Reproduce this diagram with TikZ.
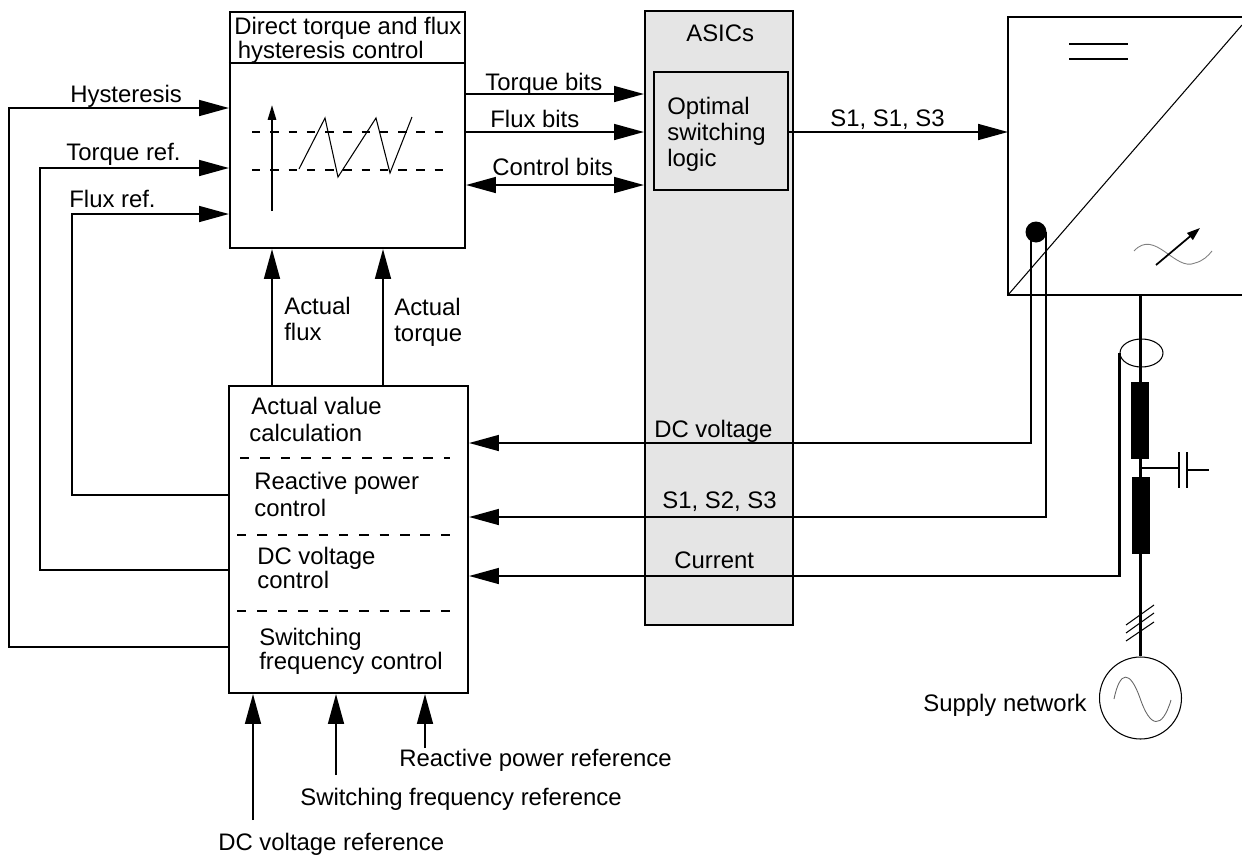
\documentclass[tikz,border=0pt]{standalone}
\usepackage{fontspec}
\setmainfont{Liberation Sans}
\usetikzlibrary{arrows.meta,shapes.geometric}
\definecolor{asicgray}{gray}{0.90}
\tikzset{
	blockbox/.style={draw, line width=1.2pt, inner sep=0pt},
	sig/.style={line width=1.2pt, -{Triangle[length=17pt,width=9pt]}},
	bus/.style={line width=1.2pt},
	thin line/.style={line width=0.6pt},
	lbl/.style={anchor=west, align=left, inner sep=0pt, font=\fontsize{13.6}{14.8}\selectfont},
	choke/.style={fill=black, inner sep=0pt, minimum width=0.36cm, minimum height=1.54cm}
}
\begin{document}
\begin{tikzpicture}[x=0.02cm, y=-0.02cm]
	\useasboundingbox (0,0) rectangle (1242,856);

	% blocks
	\node[blockbox, minimum width=4.7cm, minimum height=4.72cm] (hyst) at (347.5,130) {};
	\node[blockbox, fill=asicgray, minimum width=2.96cm, minimum height=12.28cm] (asics) at (719,318) {};
	\node[blockbox, fill=asicgray, minimum width=2.68cm, minimum height=2.36cm] (logic) at (721,131) {};
	\node[blockbox, minimum width=4.78cm, minimum height=6.14cm] (calc) at (348.5,539.5) {};
	\draw[bus] (hyst.west |- 0,63) -- (hyst.east |- 0,63);
	\draw[bus] (1242,17) -- (1008,17) -- (1008,295) -- (1242,295);
	\coordinate (conv) at (1008,132);

	% converter symbol
	\draw[thin line] (1008,295) -- (1242,25);
	\draw[bus] (1069,44) -- (1128,44);
	\draw[bus] (1069,59) -- (1128,59);
	\draw[line width=0.5pt, gray] (1134,251) .. controls (1155,228) and (1175,272) .. (1195,263) .. controls (1203,261) and (1208,256) .. (1212,251);
	\draw[line width=1pt, -{Triangle[length=7.5pt,width=5pt]}] (1156,265) -- (1200,228);
	\node[circle, fill=black, inner sep=0pt, minimum size=0.42cm] (dot) at (1036,232) {};

	% hysteresis sketch
	\draw[line width=1.2pt, -{Triangle[length=8.5pt,width=4.7pt]}] (272,211) -- (272,105);
	\draw[bus, dash pattern=on 4.8pt off 5.6pt] (252,132) -- (447,132);
	\draw[bus, dash pattern=on 4.8pt off 5.6pt] (252,170) -- (447,170);
	\draw[thin line] (299,169) -- (325,118) -- (338,177) -- (376,118) -- (390,173) -- (412,117);

	% dashed separators
	\draw[bus, dash pattern=on 5.4pt off 6.2pt] (240,458) -- (450,458);
	\draw[bus, dash pattern=on 5.4pt off 6.2pt] (237,535) -- (455,535);
	\draw[bus, dash pattern=on 5.4pt off 6.2pt] (237,611) -- (454,611);

	% bits to the ASICs
	\draw[sig] (hyst.east |- 0,94) -- (asics.west |- 0,94);
	\draw[sig] (hyst.east |- 0,132) -- (asics.west |- 0,132);
	\draw[sig, {Triangle[length=17pt,width=9pt]}-{Triangle[length=17pt,width=9pt]}] (hyst.east |- 0,185) -- (asics.west |- 0,185);
	\draw[sig] (logic.east |- 0,132) -- (conv);

	% references back to the hysteresis block
	\draw[sig] (calc.west |- 0,647) -- (9,647) -- (9,108) -- (hyst.west |- 0,108);
	\draw[sig] (calc.west |- 0,570) -- (40,570) -- (40,168) -- (hyst.west |- 0,168);
	\draw[sig] (calc.west |- 0,495) -- (72,495) -- (72,214) -- (hyst.west |- 0,214);
	\draw[sig] (calc.north -| 272,0) -- (hyst.south -| 272,0);
	\draw[sig] (calc.north -| 383,0) -- (hyst.south -| 383,0);

	% supply line
	\coordinate (convout) at (1140.3,295);
	\node[circle, draw, thin line, minimum size=1.64cm, inner sep=0pt] (supply) at (1140.5,698) {};
	\draw[line width=1.6pt] (convout) -- (convout |- supply.north);
	\node[ellipse, draw, thin line, fill=none, minimum width=0.86cm, minimum height=0.56cm, inner sep=0pt] (ct) at (1141.5,353) {};
	\node[choke] (chokeA) at (1140,420.5) {};
	\node[choke] (chokeB) at (1141,515.5) {};
	\draw[line width=1pt] (1140,468) -- (1179,468);
	\draw[line width=1pt] (1179,452) -- (1179,488);
	\draw[line width=1pt] (1187,452) -- (1187,488);
	\draw[line width=1pt] (1187,470) -- (1209,470);
	\draw[thin line] (1126,625) -- (1154,605);
	\draw[thin line] (1126,633) -- (1154,613);
	\draw[thin line] (1126,641) -- (1154,622);
	\draw[line width=0.5pt, gray!80!black] (1114,699) .. controls (1120,670) and (1130,670) .. (1140,698) .. controls (1150,728) and (1162,730) .. (1171,700);

	% measurements
	\draw[sig] (dot.center -| 1031,0) -- (1031,443) -- (calc.east |- 0,443);
	\draw[sig] (dot.center -| 1046,0) -- (1046,517) -- (calc.east |- 0,517);
	\draw[sig] (ct.west) -- (ct.west |- 0,576) -- (calc.east |- 0,576);

	% references
	\coordinate (dcref) at (253,820);
	\coordinate (swref) at (336,775);
	\coordinate (qref) at (425,748);
	\draw[sig] (dcref) -- (calc.south -| dcref);
	\draw[sig] (swref) -- (calc.south -| swref);
	\draw[sig] (qref) -- (calc.south -| qref);

	% texts
	\node[lbl] (tDirect) at (234,40) {Direct torque and flux\\[-1pt]\hspace{2pt}hysteresis control};
	\node[lbl] (tTbits) at (485,84) {Torque bits};
	\node[lbl] (tFbits) at (490,119) {Flux bits};
	\node[lbl] (tCbits) at (492,167) {Control bits};
	\node[lbl] (tAsics) at (686,33) {ASICs};
	\node[lbl] (tLogic) at (667,134) {Optimal\\switching\\logic};
	\node[lbl] (tSout) at (830,120) {S1, S1, S3};
	\node[lbl] (tHyst) at (70,96) {Hysteresis};
	\node[lbl] (tTref) at (66,154) {Torque ref.};
	\node[lbl] (tFref) at (69,199) {Flux ref.};
	\node[lbl] (tAflux) at (284,319) {Actual\\flux};
	\node[lbl] (tAtorque) at (394,322) {Actual\\torque};
	\node[lbl] (tCalc) at (249,419) {\hspace{1.2pt}Actual value\\[0.6pt]calculation};
	\node[lbl] (tQ) at (254,494) {Reactive power\\[0.6pt]control};
	\node[lbl] (tDc) at (257,568) {DC voltage\\[-0.8pt]control};
	\node[lbl] (tSw) at (259,651) {Switching\\[-1pt]frequency control};
	\node[lbl] (tDcv) at (654,431) {DC voltage};
	\node[lbl] (tS) at (662,502) {S1, S2, S3};
	\node[lbl] (tCur) at (674,560) {Current};
	\node[lbl] (tSupply) at (923,705) {Supply network};
	\node[lbl] (tQref) at (399,760) {Reactive power reference};
	\node[lbl] (tSwref) at (300,799) {Switching frequency reference};
	\node[lbl] (tDcref) at (218,844) {DC voltage reference};

\end{tikzpicture}
\end{document}
